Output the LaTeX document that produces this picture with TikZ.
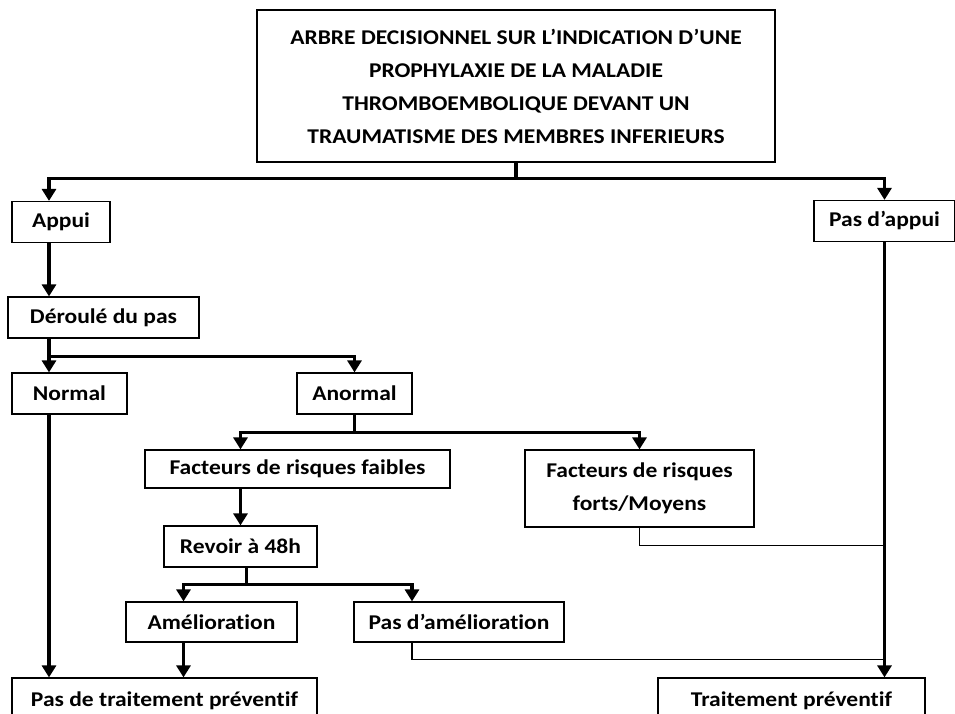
\documentclass[tikz,border=0pt]{standalone}
\usepackage{fontspec}
\setmainfont{Carlito}[FakeStretch=1.12,Ligatures=NoCommon]
\usetikzlibrary{arrows.meta}

\begin{document}
\begin{tikzpicture}[x=1pt,y=-1pt]
  \tikzset{box/.style = {draw,line width=1.2pt,inner sep=0pt,align=center,
      font=\fontsize{21}{33}\selectfont\bfseries}}
  \tikzset{arr/.style = {line width=3.5pt,-{Triangle[width=14pt,length=12pt]}}}
  \tikzset{link/.style = {line width=1.2pt}}
  \useasboundingbox (0,0) rectangle (955,713);
  \clip (0,0) rectangle (955,713);
	\node[box,minimum width=518pt,minimum height=152pt] (titre) at (516,86)
	  {ARBRE DECISIONNEL SUR L’INDICATION D’UNE\\PROPHYLAXIE DE LA MALADIE\\
	   THROMBOEMBOLIQUE DEVANT UN\\TRAUMATISME DES MEMBRES INFERIEURS};
	\node[box,minimum width=98pt,minimum height=41pt] (appui) at (61,222) {Appui};
	\node[box,minimum width=141pt,minimum height=41pt] (pasappui) at (884.5,221) {Pas d’appui};
	\node[box,minimum width=191pt,minimum height=41pt] (deroule) at (103.5,317.5) {Déroulé du pas};
	\node[box,minimum width=115pt,minimum height=41pt] (normal) at (69.5,393.5) {Normal};
	\node[box,minimum width=115pt,minimum height=41pt] (anormal) at (354.5,393.5) {Anormal};
	\node[box,minimum width=305pt,minimum height=38pt] (faibles) at (297.5,469) {Facteurs de risques faibles};
	\node[box,minimum width=229pt,minimum height=77pt] (forts) at (639.5,488.5) {Facteurs de risques\\forts/Moyens};
	\node[box,minimum width=153pt,minimum height=41pt] (revoir) at (240.5,546.5) {Revoir à 48h};
	\node[box,minimum width=171pt,minimum height=40pt] (amelio) at (211.5,622) {Amélioration};
	\node[box,minimum width=210pt,minimum height=40pt] (pasamelio) at (459,622) {Pas d’amélioration};
	\node[box,minimum width=305pt,minimum height=46pt] (pastrait) at (164.5,701) {Pas de traitement préventif};
	\node[box,minimum width=267pt,minimum height=46pt] (trait) at (791.5,701) {Traitement préventif};

	\coordinate (gauche) at (49,0);

	\draw[arr] (titre.south) -- ++(0,16) -| (appui.north -| gauche);
	\draw[arr] (titre.south) -- ++(0,16) -| (pasappui.north);
	\draw[arr] (appui.south -| gauche) -- (deroule.north -| gauche);
	\draw[arr] (deroule.south -| gauche) -- ++(0,18) -| (normal.north -| gauche);
	\draw[arr] (deroule.south -| gauche) -- ++(0,18) -| (anormal.north);
	\draw[arr] (anormal.south) -- ++(0,18) -| (faibles.north -| revoir.north);
	\draw[arr] (anormal.south) -- ++(0,18) -| (forts.north);
	\draw[arr] (faibles.south -| revoir.north) -- (revoir.north);
	\draw[arr] ([xshift=6pt]revoir.south) -- ++(0,17) -| ([xshift=-28pt]amelio.north);
	\draw[arr] ([xshift=6pt]revoir.south) -- ++(0,17) -| ([xshift=-47pt]pasamelio.north);
	\draw[arr] ([xshift=-28pt]amelio.south) -- ([xshift=-28pt]amelio.south |- pastrait.north);
	\draw[arr] (normal.south -| gauche) -- (pastrait.north -| gauche);
	\draw[arr] (pasappui.south) -- (pasappui.south |- trait.north);
	\draw[link] (forts.south) -- ++(0,18) coordinate (j1) -- (j1 -| pasappui.south);
	\draw[link] ([xshift=-47pt]pasamelio.south) -- ++(0,17) coordinate (j2) -- (j2 -| pasappui.south);
\end{tikzpicture}
\end{document}
